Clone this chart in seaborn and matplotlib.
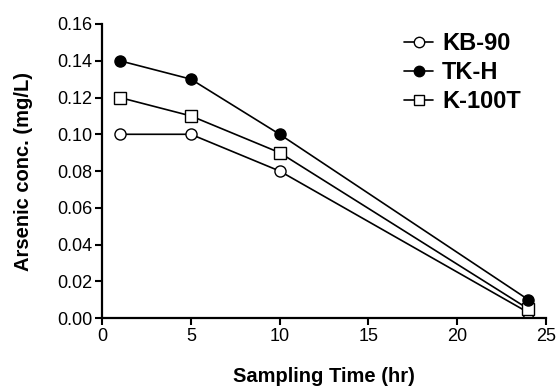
import matplotlib
matplotlib.use("Agg")
import matplotlib.pyplot as plt
import seaborn as sns
import pandas as pd
from matplotlib.lines import Line2D

time_hr = [1, 5, 10, 24]
kb90 = [0.10, 0.10, 0.08, 0.003]
tkh = [0.14, 0.13, 0.10, 0.010]
k100t = [0.12, 0.11, 0.09, 0.005]

sns.set_style("ticks", {"axes.edgecolor": "black", "xtick.color": "black",
                        "ytick.color": "black", "text.color": "black",
                        "axes.labelcolor": "black"})
plt.rcParams['font.family'] = ['Liberation Sans', 'DejaVu Sans']

fig = plt.figure(figsize=(5.59, 3.87), dpi=100)
ax = fig.add_axes([0.1825, 0.178, 0.7945, 0.76])

series = [
    ("KB-90", kb90, "o", "white"),
    ("K-100T", k100t, "s", "white"),
    ("TK-H", tkh, "o", "black"),
]
for name, vals, mk, fc in series:
    df = pd.DataFrame({"t": time_hr, "v": vals})
    sns.lineplot(data=df, x="t", y="v", ax=ax, color="black", linewidth=1.2,
                 marker=mk, markersize=8 if mk == "o" else 8.5,
                 markerfacecolor=fc, markeredgecolor="black",
                 markeredgewidth=1.0, legend=False)

ax.set_xlim(0, 25)
ax.set_ylim(0, 0.16)
ax.set_xticks([0, 5, 10, 15, 20, 25])
ax.set_yticks([0, 0.02, 0.04, 0.06, 0.08, 0.10, 0.12, 0.14, 0.16])
ax.set_yticklabels([f"{v:.2f}" for v in ax.get_yticks()])
ax.tick_params(axis="both", labelsize=13, length=5, width=1.5, direction="out",
               pad=2, colors="black")
for s in ["left", "bottom"]:
    ax.spines[s].set_linewidth(1.6)
    ax.spines[s].set_color("black")
sns.despine(ax=ax)

ax.set_xlabel("Sampling Time (hr)", fontsize=14.5, fontweight="bold", labelpad=16,
              color="black")
ax.set_ylabel("Arsenic conc. (mg/L)", fontsize=14.5, fontweight="bold", labelpad=17,
              color="black")

handles = [
    Line2D([], [], color="black", lw=1.2, marker="o", ms=7.5, mfc="white", mec="black", mew=1.0),
    Line2D([], [], color="black", lw=1.2, marker="o", ms=7.5, mfc="black", mec="black", mew=1.0),
    Line2D([], [], color="black", lw=1.2, marker="s", ms=7.5, mfc="white", mec="black", mew=1.0),
]
leg = ax.legend(handles, ["KB-90", "TK-H", "K-100T"], loc="upper left",
                bbox_to_anchor=(0.633, 1.045), frameon=False, handlelength=1.2,
                handletextpad=0.4, labelspacing=0.25,
                prop={"family": "Liberation Sans", "weight": "bold", "size": 17})
for t in leg.get_texts():
    t.set_color("black")

fig.savefig("out.png", dpi=100)
